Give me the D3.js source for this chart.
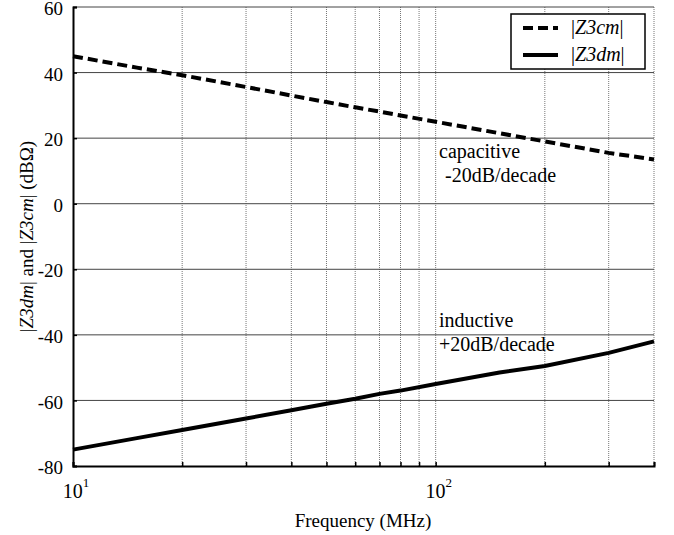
<!DOCTYPE html>
<html>
<head>
<meta charset="utf-8">
<script src="https://cdn.jsdelivr.net/npm/d3@7"></script>
</head>
<body style="margin:0">
<svg id="chart" width="674" height="535"></svg>
<script>
// Data
const freqs = [10, 15, 20, 30, 40, 50, 60, 70, 80, 100, 150, 200, 300, 400];
const z3cm = [45, 41.5, 39.2, 35.6, 33, 31, 29.4, 28.1, 26.9, 25, 21.5, 19, 15.5, 13.5];
const z3dm = [-75, -71.5, -69, -65.5, -63, -61, -59.5, -58, -57, -55, -51.5, -49.5, -45.5, -42];
const yTicks = [60, 40, 20, 0, -20, -40, -60, -80];
const xGrid = [20, 30, 40, 50, 60, 70, 80, 90, 100, 200, 300, 400];
const xLabelExps = [1, 2];

const padLeft = 73;
const padRight = 654;
const padTop = 7;
const padBottom = 466;
const faceName = ['Liberation', 'Serif'].join(' ');

const svg = d3.select('#chart');

// every text gets the serif face
const font = (sel, size) =>
  sel
    .attr('font-family', faceName)
    .style('font-family', () => `"${faceName}"`)
    .style('font-size', () => `${size}px`);

const xScale = d3.scaleLog().domain([10, 400]).range([padLeft, padRight]);
const yScale = d3.scaleLinear().domain([-80, 60]).range([padBottom, padTop]);

// grid
svg
  .append('g')
  .selectAll('line')
  .data(xGrid)
  .enter()
  .append('line')
  .attr('x1', d => xScale(d))
  .attr('x2', d => xScale(d))
  .attr('y1', padTop)
  .attr('y2', padBottom)
  .attr('stroke', '#777')
  .attr('stroke-width', 1)
  .attr('stroke-dasharray', '1,1');

svg
  .append('g')
  .selectAll('line')
  .data(yTicks.filter(d => d > -80))
  .enter()
  .append('line')
  .attr('x1', padLeft)
  .attr('x2', padRight)
  .attr('y1', d => yScale(d))
  .attr('y2', d => yScale(d))
  .attr('stroke', '#444')
  .attr('stroke-width', 1);

// axes
const xAxis = d3
  .axisBottom(xScale)
  .tickValues([10].concat(xGrid))
  .tickSize(-4)
  .tickFormat('');

svg
  .append('g')
  .attr('transform', `translate(0,${padBottom})`)
  .call(xAxis)
  .call(g => g.select('.domain').attr('stroke', '#000').attr('stroke-width', 2))
  .call(g => g.selectAll('.tick line').attr('stroke', '#000').attr('stroke-width', 1.5));

const yAxis = d3
  .axisLeft(yScale)
  .tickValues(yTicks)
  .tickSize(-4)
  .tickPadding(10)
  .tickFormat(d => String(d));

svg
  .append('g')
  .attr('transform', `translate(${padLeft},0)`)
  .call(yAxis)
  .attr('font-family', faceName)
  .call(g => g.select('.domain').attr('stroke', '#000').attr('stroke-width', 2))
  .call(g => g.selectAll('.tick line').attr('stroke', '#000').attr('stroke-width', 1.5))
  .call(g =>
    g
      .selectAll('.tick text')
      .attr('dy', '0.4em')
      .attr('fill', '#000')
      .call(font, 19)
  );

// x labels 10^n
const xl = svg
  .append('g')
  .selectAll('text')
  .data(xLabelExps)
  .enter()
  .append('text')
  .attr('x', d => xScale(Math.pow(10, d)) + 3)
  .attr('y', 498)
  .attr('text-anchor', 'middle')
  .call(font, 20);
xl.append('tspan').call(font, 20).text('10');
xl.append('tspan')
  .attr('dy', -11)
  .call(font, 13)
  .text(d => d);

svg
  .append('text')
  .attr('x', 363)
  .attr('y', 527)
  .attr('text-anchor', 'middle')
  .call(font, 19)
  .text('Frequency (MHz)');

// y label
const yl = svg
  .append('text')
  .attr('transform', `translate(33,${(padTop + padBottom) / 2}) rotate(-90)`)
  .attr('text-anchor', 'middle')
  .call(font, 19);
const ylParts = [
  ['|', 'normal'],
  ['Z3dm', 'italic'],
  ['| and |', 'normal'],
  ['Z3cm', 'italic'],
  ['| (dBΩ)', 'normal']
];
ylParts.forEach(p => {
  yl.append('tspan').call(font, 19).style('font-style', p[1]).text(p[0]);
});

// lines
const line = d3
  .line()
  .x(d => xScale(d[0]))
  .y(d => yScale(d[1]));

svg
  .append('path')
  .datum(freqs.map((f, i) => [f, z3cm[i]]))
  .attr('d', line)
  .attr('fill', 'none')
  .attr('stroke', '#000')
  .attr('stroke-width', 4)
  .attr('stroke-dasharray', '10,5');

svg
  .append('path')
  .datum(freqs.map((f, i) => [f, z3dm[i]]))
  .attr('d', line)
  .attr('fill', 'none')
  .attr('stroke', '#000')
  .attr('stroke-width', 4);

// annotations
const notes = [
  ['capacitive', 439, 158],
  ['-20dB/decade', 445, 182],
  ['inductive', 439, 327],
  ['+20dB/decade', 439, 351]
];
svg
  .append('g')
  .selectAll('text')
  .data(notes)
  .enter()
  .append('text')
  .attr('x', d => d[1])
  .attr('y', d => d[2])
  .call(font, 20)
  .text(d => d[0]);

// legend
const legend = svg.append('g');
legend
  .append('rect')
  .attr('x', 511)
  .attr('y', 14)
  .attr('width', 134)
  .attr('height', 55)
  .attr('fill', '#fff')
  .attr('stroke', '#000')
  .attr('stroke-width', 1.5);

const legendItems = [
  ['Z3cm', '10,5'],
  ['Z3dm', null]
];
legendItems.forEach((item, i) => {
  const y = 28 + i * 27;
  legend
    .append('line')
    .attr('x1', 523)
    .attr('x2', 558)
    .attr('y1', y)
    .attr('y2', y)
    .attr('stroke', '#000')
    .attr('stroke-width', 4)
    .attr('stroke-dasharray', item[1]);
  const t = legend
    .append('text')
    .attr('x', 571)
    .attr('y', y + 6)
    .call(font, 20);
  t.append('tspan').call(font, 20).text('|');
  t.append('tspan').call(font, 20).style('font-style', 'italic').text(item[0]);
  t.append('tspan').call(font, 20).text('|');
});
</script>
</body>
</html>
